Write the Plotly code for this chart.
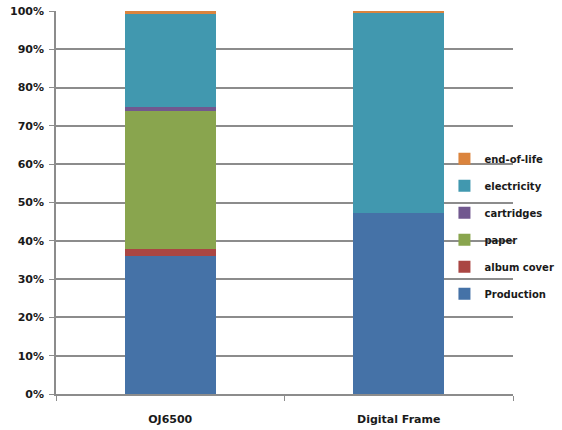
import plotly.graph_objects as go

# Share of each life-cycle stage per product (percent of total)
products = ["OJ6500", "Digital Frame"]
stages = ["Production", "album cover", "paper", "cartridges", "electricity", "end-of-life"]
production = [36.1, 47.2]
album_cover = [1.7, 0.0]
paper = [36.1, 0.0]
cartridges = [1.0, 0.0]
electricity = [24.3, 52.2]
end_of_life = [0.8, 0.6]

series = [production, album_cover, paper, cartridges, electricity, end_of_life]
colors = ["#4572A7", "#AA4643", "#89A54E", "#71588F", "#4198AF", "#DB843D"]

txt = dict(family="DejaVu Sans", size=11, color="#1a1a1a", weight="bold")
legend_txt = dict(family="DejaVu Sans", size=10, color="#1a1a1a", weight="bold")

fig = go.Figure()
for i, (name, vals, col) in enumerate(zip(stages, series, colors)):
    fig.add_trace(go.Bar(
        x=products, y=vals, name=name, legendgroup=name,
        legendrank=len(stages) - i,  # top of the stack listed first
        marker=dict(color=col, line=dict(width=0)),
        width=0.4,
    ))

fig.update_layout(
    barmode="stack",
    width=562, height=430,
    margin=dict(l=56, r=49, t=11, b=36, autoexpand=False),
    paper_bgcolor="white", plot_bgcolor="white",
    font=txt,
    showlegend=True,
    legend=dict(
        traceorder="grouped", tracegroupgap=8,
        x=0.85, y=0.652, xanchor="left", yanchor="top",
        bgcolor="rgba(0,0,0,0)", itemwidth=30,
        font=legend_txt,
    ),
    xaxis=dict(
        showgrid=False, showline=True, linecolor="#8c8c8c", linewidth=1.5,
        ticks="outside", tickson="boundaries", ticklen=5, tickcolor="#8c8c8c",
        tickfont=txt, ticklabelstandoff=14,
    ),
    yaxis=dict(
        range=[0, 100], dtick=10, ticksuffix="%",
        showgrid=True, gridcolor="#8c8c8c", gridwidth=1.5,
        showline=True, linecolor="#8c8c8c", linewidth=1.5,
        ticks="outside", ticklen=5, tickcolor="#8c8c8c",
        tickfont=txt, ticklabelstandoff=3,
        zeroline=False,
    ),
)

fig.write_html("out.html")
